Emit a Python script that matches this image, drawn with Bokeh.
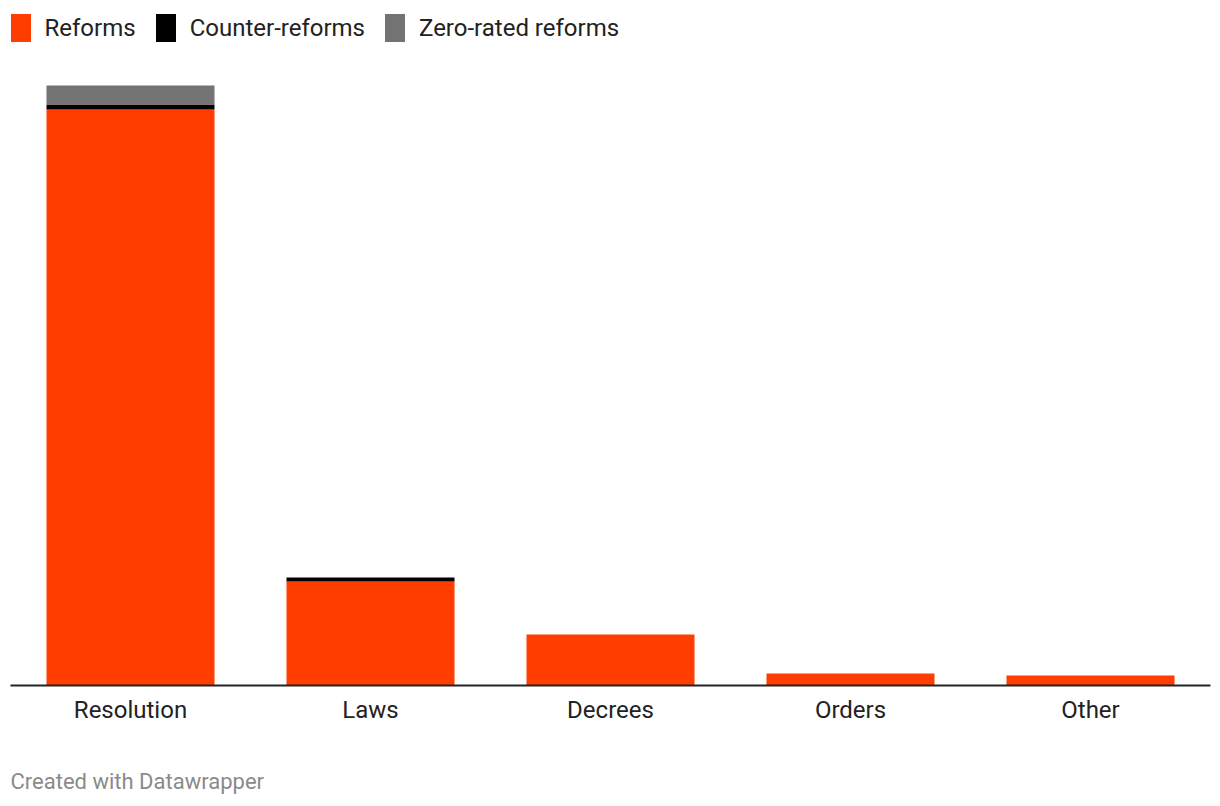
from bokeh.plotting import figure
from bokeh.models import ColumnDataSource, Range1d, FactorRange, Legend, LegendItem, Title
from bokeh.embed import file_html
from bokeh.resources import INLINE

categories = ["Resolution", "Laws", "Decrees", "Orders", "Other"]
reforms = [576, 104, 51, 12, 10]
counter_reforms = [5, 4, 0, 0, 0]
zero_rated = [19, 0, 0, 0, 0]
series = ["Reforms", "Counter-reforms", "Zero-rated reforms"]
colors = ["#ff3d00", "#000000", "#737373"]

src = ColumnDataSource(dict(cat=categories, reforms=reforms,
                            counter=counter_reforms, zero=zero_rated))

p = figure(x_range=FactorRange(*categories, range_padding=0),
           y_range=Range1d(0, 685),
           width=1220, height=806, output_backend="svg", toolbar_location=None,
           y_axis_location=None, min_border_left=10, min_border_right=10,
           min_border_top=0, min_border_bottom=121)

rs = p.vbar_stack(["reforms", "counter", "zero"], x="cat", width=0.7, source=src,
                  color=colors, line_color=None)

p.xgrid.visible = False
p.ygrid.visible = False
p.outline_line_color = None
p.background_fill_color = "white"

ax = p.xaxis[0]
ax.axis_line_color = "#222222"
ax.axis_line_width = 2
ax.major_tick_line_color = None
ax.minor_tick_line_color = None
ax.major_label_text_font = "Roboto"
ax.major_label_text_font_size = "24px"
ax.major_label_text_color = "#222222"
ax.major_label_standoff = 4

legend = Legend(items=[LegendItem(label=s, renderers=[r]) for s, r in zip(series, rs)],
                orientation="horizontal", location=(-2.5, 640),
                glyph_width=25, glyph_height=35, label_standoff=12, spacing=17,
                padding=0, margin=0, border_line_color=None, background_fill_alpha=0,
                label_text_font="Roboto", label_text_font_size="24px",
                label_text_color="#222222", label_text_baseline="middle")
p.add_layout(legend, "center")

spacer = Title(text=" ", align="left", text_font="Roboto", text_font_size="22px",
               text_color="#ffffff", standoff=3)
p.add_layout(spacer, "below")

footer = Title(text="Created with Datawrapper", align="left", text_font="Roboto",
               text_font_size="22px", text_color="#8a8a8a", text_font_style="normal",
               standoff=21)
p.add_layout(footer, "below")

open("out.html", "w").write(file_html(p, INLINE))
